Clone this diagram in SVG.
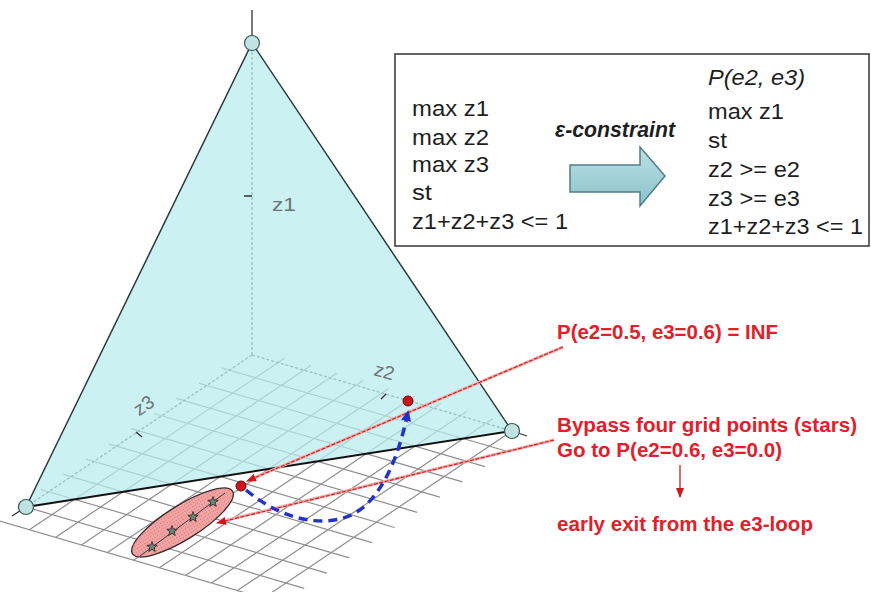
<svg xmlns="http://www.w3.org/2000/svg" width="871" height="592" viewBox="0 0 871 592">
<defs>
<style>
.grid{stroke:#8f8f8f;stroke-width:1.2;fill:none}
.axis{stroke:#3f5555;stroke-width:1.3;stroke-dasharray:3 2;fill:none}
.axs{stroke:#333;stroke-width:1.3;fill:none}
.edge{stroke:#2e3a3a;stroke-width:1.5;fill:none}
.vtx{fill:#bfe2e2;stroke:#3d5656;stroke-width:1.2}
.lab{font-family:"Liberation Sans",Arial,sans-serif;font-size:19px;fill:#6a7676}
.bx{font-family:"Liberation Sans",Arial,sans-serif;font-size:22px;fill:#1e1e1e}
.rd{font-family:"Liberation Sans",Arial,sans-serif;font-size:19.5px;font-weight:bold;fill:#e0202a}
.halo{stroke:#f3a9a9;stroke-width:3;fill:none}
.lead{stroke:#cc1a1a;stroke-width:1.1;stroke-dasharray:4 1.5;fill:none}
.dot{fill:#c8141a;stroke:#6e0a0a;stroke-width:1}
.star{fill:#6f8478;stroke:#2c332f;stroke-width:0.9}
</style>
<marker id="ar" markerUnits="userSpaceOnUse" markerWidth="10" markerHeight="8" refX="9" refY="4" orient="auto"><path d="M0,0 L10,4 L0,8 Z" fill="#d01818"/></marker>
<marker id="ab" markerUnits="userSpaceOnUse" markerWidth="11" markerHeight="10" refX="9" refY="5" orient="auto"><path d="M0,0 L11,5 L0,10 Z" fill="#1f2fc8"/></marker>
<pattern id="stip" width="3" height="3" patternUnits="userSpaceOnUse"><rect width="3" height="3" fill="#f2a4a4"/><circle cx="1.5" cy="1.5" r="0.6" fill="#d46a6a"/></pattern>
<linearGradient id="arg" x1="0" y1="0" x2="0" y2="1"><stop offset="0" stop-color="#bfe0e6"/><stop offset="1" stop-color="#88c2cb"/></linearGradient>
<path id="st" d="M0,-5.5 L1.35,-1.86 L5.23,-1.7 L2.19,0.71 L3.23,4.45 L0,2.3 L-3.23,4.45 L-2.19,0.71 L-5.23,-1.7 L-1.35,-1.86 Z"/>
</defs>
<rect width="871" height="592" fill="#fff"/>
<g id="grid" class="grid">
<path d="M221.6,367.9L507.6,451.5M199,383.1L485,466.7M176.4,398.3L462.4,481.9M153.8,413.5L439.8,497.1M131.2,428.7L417.2,512.3M108.6,443.9L394.6,527.5M86,459.1L372,542.7M63.4,474.3L349.4,557.9M40.8,489.5L326.8,573.1M18.2,504.7L304.2,588.3M-4.4,519.9L281.6,603.5"/>
<path d="M284.8,358L29.4,529.8M310.8,365.6L55.4,537.4M336.8,373.2L81.4,545M362.8,380.8L107.4,552.6M388.8,388.4L133.4,560.2M414.8,396L159.4,567.8M440.8,403.6L185.4,575.4M466.8,411.2L211.4,583M492.8,418.8L237.4,590.6M518.8,426.4L263.4,598.2"/>
</g>
<g id="axes">
<path class="axis" d="M252,355L252,43M252,355L512,431M252,355L26,507"/>
<path class="axs" d="M252,10L252,36M512,431L527,436M26,507L12,516"/>
</g>
<g id="plane">
<polygon points="252,43 26,507 512,431" fill="#b8ecef" fill-opacity="0.72"/>
<path class="edge" d="M26,507L252,43L512,431"/>
<line x1="26" y1="507" x2="512" y2="431" stroke="#111" stroke-width="2"/>
<path class="axs" stroke-width="1" d="M244,196L252,196M386,394L381,399M136,432L142,437"/>
</g>
<g id="vertices">
<circle class="vtx" cx="252" cy="43" r="7.5"/>
<circle class="vtx" cx="26" cy="507" r="7.5"/>
<circle class="vtx" cx="512" cy="431" r="7.5"/>
</g>
<g id="axis-labels">
<text class="lab" x="272" y="211" textLength="24" lengthAdjust="spacingAndGlyphs">z1</text>
<text class="lab" transform="translate(384.5,371) rotate(16)" x="0" y="7" text-anchor="middle">z2</text>
<text class="lab" transform="translate(143.5,405) rotate(-34)" x="0" y="7" text-anchor="middle">z3</text>
</g>
<g id="skipped-points">
<ellipse cx="182.5" cy="522.5" rx="59" ry="17" transform="rotate(-32 182.5 522.5)" fill="url(#stip)" stroke="#3a2a2a" stroke-width="1.3"/>
<line x1="225" y1="493" x2="140" y2="556" stroke="#3a3a3a" stroke-width="1"/>
<use href="#st" class="star" x="213" y="502"/>
<use href="#st" class="star" x="193" y="517"/>
<use href="#st" class="star" x="172" y="531"/>
<use href="#st" class="star" x="152" y="547"/>
</g>
<g id="connectors">
<line class="halo" x1="563" y1="347" x2="249" y2="480"/>
<line class="lead" x1="563" y1="347" x2="247" y2="481" marker-end="url(#ar)"/>
<line class="halo" x1="554" y1="440" x2="219" y2="522"/>
<line class="lead" x1="554" y1="440" x2="217" y2="523" marker-end="url(#ar)"/>
<path d="M246,490 C288,525 340,532 368,503 C390,480 401,445 408,412" fill="none" stroke="#2233cc" stroke-width="3.5" stroke-dasharray="9 6" marker-end="url(#ab)"/>
<line x1="680" y1="465" x2="680" y2="497" stroke="#cc1a1a" stroke-width="1.3" marker-end="url(#ar)"/>
</g>
<g id="points">
<circle class="dot" cx="408" cy="401" r="5"/>
<circle class="dot" cx="241" cy="486" r="5"/>
</g>
<g id="formulation-box">
<rect x="395" y="54" width="474" height="192" fill="#fff" stroke="#333" stroke-width="1.5"/>
<text class="bx" x="412" y="116" textLength="77" lengthAdjust="spacingAndGlyphs">max z1</text>
<text class="bx" x="412" y="145" textLength="77" lengthAdjust="spacingAndGlyphs">max z2</text>
<text class="bx" x="412" y="172" textLength="77" lengthAdjust="spacingAndGlyphs">max z3</text>
<text class="bx" x="412" y="200" textLength="20" lengthAdjust="spacingAndGlyphs">st</text>
<text class="bx" x="412" y="229" textLength="156" lengthAdjust="spacingAndGlyphs">z1+z2+z3 &lt;= 1</text>
<text class="bx" x="555" y="137" font-size="18.5" font-weight="bold" font-style="italic" textLength="120" lengthAdjust="spacingAndGlyphs">ε-constraint</text>
<polygon points="570,165 640,165 640,147 665,176 640,206 640,192 570,192" fill="url(#arg)" stroke="#4d7f87" stroke-width="1.5"/>
<text class="bx" x="708" y="85" font-style="italic" textLength="97" lengthAdjust="spacingAndGlyphs">P(e2, e3)</text>
<text class="bx" x="708" y="119" textLength="76" lengthAdjust="spacingAndGlyphs">max z1</text>
<text class="bx" x="708" y="148" textLength="19" lengthAdjust="spacingAndGlyphs">st</text>
<text class="bx" x="708" y="177" textLength="92" lengthAdjust="spacingAndGlyphs">z2 &gt;= e2</text>
<text class="bx" x="708" y="206" textLength="92" lengthAdjust="spacingAndGlyphs">z3 &gt;= e3</text>
<text class="bx" x="708" y="234" textLength="155" lengthAdjust="spacingAndGlyphs">z1+z2+z3 &lt;= 1</text>
</g>
<g id="annotations">
<text class="rd" x="557" y="339" textLength="221" lengthAdjust="spacingAndGlyphs">P(e2=0.5, e3=0.6) = INF</text>
<text class="rd" x="557" y="432" textLength="300" lengthAdjust="spacingAndGlyphs">Bypass four grid points (stars)</text>
<text class="rd" x="557" y="457" textLength="225" lengthAdjust="spacingAndGlyphs">Go to P(e2=0.6, e3=0.0)</text>
<text class="rd" x="557" y="531" textLength="256" lengthAdjust="spacingAndGlyphs">early exit from the e3-loop</text>
</g>
</svg>
